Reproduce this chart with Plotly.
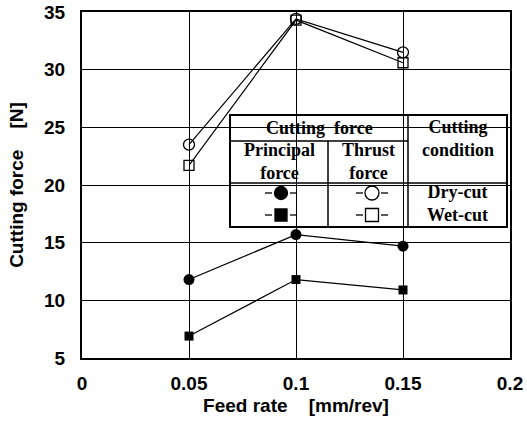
import plotly.graph_objects as go

# ---- data ----
feed_rate = [0.05, 0.10, 0.15]
principal_dry = [11.8, 15.7, 14.7]
principal_wet = [6.9, 11.8, 10.9]
thrust_dry = [23.5, 34.4, 31.5]
thrust_wet = [21.7, 34.3, 30.6]

x_ticks = [0, 0.05, 0.1, 0.15, 0.2]
x_ticktext = ["0", "0.05", "0.1", "0.15", "0.2"]
y_ticks = [5, 10, 15, 20, 25, 30, 35]

W, H = 527, 427
ML, MR, MT, MB = 82, 17, 12, 69
X0, X1 = 0.0, 0.2
Y0, Y1 = 5.0, 35.0


def px2x(px):
    return X0 + (px - ML) / (W - ML - MR) * (X1 - X0)


def py2y(py):
    return Y0 + (H - MB - py) / (H - MT - MB) * (Y1 - Y0)


fig = go.Figure()

LW = 1.2
fig.add_trace(go.Scatter(x=feed_rate, y=thrust_dry, mode="lines+markers",
                         line=dict(color="black", width=LW),
                         marker=dict(symbol="circle-open", size=11, color="black", line=dict(width=1.3))))
fig.add_trace(go.Scatter(x=feed_rate, y=thrust_wet, mode="lines+markers",
                         line=dict(color="black", width=LW),
                         marker=dict(symbol="square-open", size=10, color="black", line=dict(width=1.3))))
fig.add_trace(go.Scatter(x=feed_rate, y=principal_dry, mode="lines+markers",
                         line=dict(color="black", width=LW),
                         marker=dict(symbol="circle", size=11, color="black")))
fig.add_trace(go.Scatter(x=feed_rate, y=principal_wet, mode="lines+markers",
                         line=dict(color="black", width=LW),
                         marker=dict(symbol="square", size=9, color="black")))

# ---- legend table ----
tl, tr, tt, tb = 230, 507, 115, 227
c1, c2 = 328, 408
r1, r2 = 141, 183
shapes = [
    dict(type="rect", xref="x", yref="y", x0=px2x(tl), x1=px2x(tr), y0=py2y(tb), y1=py2y(tt),
         fillcolor="white", line=dict(color="black", width=2), layer="below"),
    dict(type="line", xref="x", yref="y", x0=px2x(tl), x1=px2x(c2), y0=py2y(r1), y1=py2y(r1),
         line=dict(color="black", width=1.5), layer="below"),
    dict(type="line", xref="x", yref="y", x0=px2x(tl), x1=px2x(tr), y0=py2y(r2), y1=py2y(r2),
         line=dict(color="black", width=1.5), layer="below"),
    dict(type="line", xref="x", yref="y", x0=px2x(c1), x1=px2x(c1), y0=py2y(tb), y1=py2y(r1),
         line=dict(color="black", width=1.5), layer="below"),
    dict(type="line", xref="x", yref="y", x0=px2x(c2), x1=px2x(c2), y0=py2y(tb), y1=py2y(tt),
         line=dict(color="black", width=1.5), layer="below"),
]

# legend glyphs
gx = [281, 372]
gy = [193, 215]
glyphs = [
    (gx[0], gy[0], "circle", 13),
    (gx[0], gy[1], "square", 12),
    (gx[1], gy[0], "circle-open", 14),
    (gx[1], gy[1], "square-open", 13),
]
for px, py, sym, sz in glyphs:
    for a, b in [(-16, -9), (9, 16)]:
        shapes.append(dict(type="line", xref="x", yref="y", x0=px2x(px + a), x1=px2x(px + b),
                           y0=py2y(py), y1=py2y(py), line=dict(color="black", width=1.3), layer="below"))
    fig.add_trace(go.Scatter(x=[px2x(px)], y=[py2y(py)], mode="markers",
                             marker=dict(symbol=sym, size=sz, color="black", line=dict(width=1.3, color="black"))))

serif = dict(family="Liberation Serif", size=18, color="black", weight="bold")
annots = [
    ("Cutting  force", (tl + c2) / 2, 128),
    ("Principal<br>force", (tl + c1) / 2, 161),
    ("Thrust<br>force", (c1 + c2) / 2, 161),
    ("Cutting<br>condition", (c2 + tr) / 2, 138),
    ("Dry-cut<br>Wet-cut", (c2 + tr) / 2, 203),
]
annotations = [dict(text=t, x=px2x(px), y=py2y(py), xref="x", yref="y", showarrow=False,
                    font=serif, xanchor="center", yanchor="middle") for t, px, py in annots]

sans = dict(family="Liberation Sans", size=19, color="black", weight="bold")
fig.update_layout(
    width=W, height=H,
    margin=dict(l=ML, r=MR, t=MT, b=MB),
    paper_bgcolor="white", plot_bgcolor="white",
    showlegend=False,
    shapes=shapes,
    annotations=annotations,
    xaxis=dict(range=[X0, X1], tickvals=x_ticks, ticktext=x_ticktext, automargin=False,
               showgrid=True, gridcolor="black", gridwidth=1,
               showline=True, linecolor="black", linewidth=2, mirror=True,
               ticks="", zeroline=False, tickfont=sans, ticklabelstandoff=7,
               title=dict(text="Feed rate    [mm/rev]", font=sans, standoff=6)),
    yaxis=dict(range=[Y0, Y1], tickvals=y_ticks, automargin=False,
               showgrid=True, gridcolor="black", gridwidth=1,
               showline=True, linecolor="black", linewidth=2, mirror=True,
               ticks="", zeroline=False, tickfont=sans, ticklabelstandoff=11,
               title=dict(text="Cutting force    [N]", font=sans, standoff=15)),
)

fig.write_html("out.html", config={"displayModeBar": False},
               post_script="document.body.style.margin='0';document.body.style.overflow='hidden';")
